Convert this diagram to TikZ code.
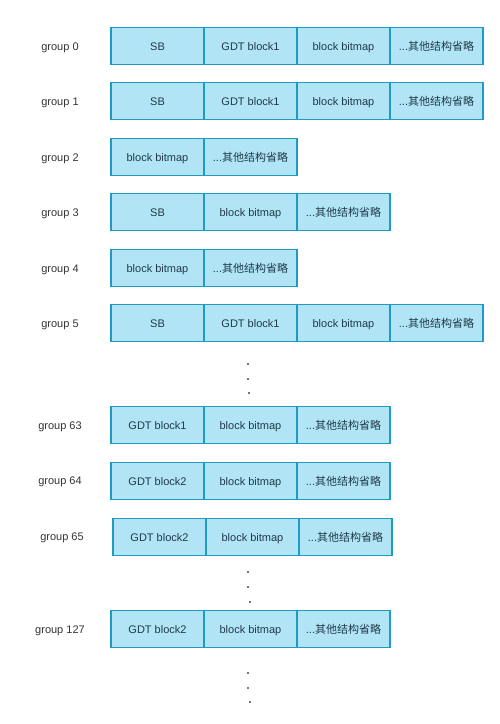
\documentclass[tikz,border=0pt]{standalone}
\usepackage{fontspec}
\setmainfont{Liberation Sans}
\newfontfamily\cjk{Noto Sans CJK SC}
\definecolor{cellfill}{HTML}{B1E4F4}
\definecolor{cellline}{HTML}{1E9BC2}
\definecolor{celltext}{HTML}{1F3B4A}
\definecolor{labeltext}{HTML}{333333}
\definecolor{dotgray}{HTML}{777777}
\tikzset{
  cell/.style={draw=cellline, line width=1.6pt, fill=cellfill, minimum width=93pt, minimum height=37pt, inner sep=0pt, outer sep=0pt, text height=9pt, text depth=1pt, text=celltext, font=\fontsize{11}{13}\selectfont, anchor=west},
  grouplabel/.style={text=labeltext, font=\fontsize{11}{13}\selectfont, text height=9pt, text depth=1pt},
  vdot/.style={fill=dotgray, draw=none, minimum size=2pt, inner sep=0pt}
}
\newcommand{\etc}{...{\cjk 其他结构省略}}
\begin{document}
\begin{tikzpicture}[x=1pt,y=-1pt]
\useasboundingbox (0,0) rectangle (500,724);
% group 0
\node[grouplabel] (l0) at (60,46) {group 0};
\node[cell] (g0a) at (111,46) {SB};
\node[cell] (g0b) at (g0a.east) {GDT block1};
\node[cell] (g0c) at (g0b.east) {block bitmap};
\node[cell] (g0d) at (g0c.east) {\etc};
% group 1
\node[grouplabel] (l1) at (60,101) {group 1};
\node[cell] (g1a) at (111,101) {SB};
\node[cell] (g1b) at (g1a.east) {GDT block1};
\node[cell] (g1c) at (g1b.east) {block bitmap};
\node[cell] (g1d) at (g1c.east) {\etc};
% group 2
\node[grouplabel] (l2) at (60,157) {group 2};
\node[cell] (g2a) at (111,157) {block bitmap};
\node[cell] (g2b) at (g2a.east) {\etc};
% group 3
\node[grouplabel] (l3) at (60,212) {group 3};
\node[cell] (g3a) at (111,212) {SB};
\node[cell] (g3b) at (g3a.east) {block bitmap};
\node[cell] (g3c) at (g3b.east) {\etc};
% group 4
\node[grouplabel] (l4) at (60,268) {group 4};
\node[cell] (g4a) at (111,268) {block bitmap};
\node[cell] (g4b) at (g4a.east) {\etc};
% group 5
\node[grouplabel] (l5) at (60,323) {group 5};
\node[cell] (g5a) at (111,323) {SB};
\node[cell] (g5b) at (g5a.east) {GDT block1};
\node[cell] (g5c) at (g5b.east) {block bitmap};
\node[cell] (g5d) at (g5c.east) {\etc};
% dots
\node[vdot] (d1a) at (248,364) {};
\node[vdot] (d1b) at (248,379) {};
\node[vdot] (d1c) at (249,393) {};
% group 63
\node[grouplabel] (l63) at (60,425) {group 63};
\node[cell] (g63a) at (111,425) {GDT block1};
\node[cell] (g63b) at (g63a.east) {block bitmap};
\node[cell] (g63c) at (g63b.east) {\etc};
% group 64
\node[grouplabel] (l64) at (60,480) {group 64};
\node[cell] (g64a) at (111,481) {GDT block2};
\node[cell] (g64b) at (g64a.east) {block bitmap};
\node[cell] (g64c) at (g64b.east) {\etc};
% group 65
\node[grouplabel] (l65) at (62,536) {group 65};
\node[cell] (g65a) at (113,537) {GDT block2};
\node[cell] (g65b) at (g65a.east) {block bitmap};
\node[cell] (g65c) at (g65b.east) {\etc};
% dots
\node[vdot] (d2a) at (248,572) {};
\node[vdot] (d2b) at (248,587) {};
\node[vdot] (d2c) at (250,602) {};
% group 127
\node[grouplabel] (l127) at (60,629) {group 127};
\node[cell] (g127a) at (111,629) {GDT block2};
\node[cell] (g127b) at (g127a.east) {block bitmap};
\node[cell] (g127c) at (g127b.east) {\etc};
% dots
\node[vdot] (d3a) at (248,673) {};
\node[vdot] (d3b) at (248,688) {};
\node[vdot] (d3c) at (250,702) {};
\end{tikzpicture}
\end{document}
